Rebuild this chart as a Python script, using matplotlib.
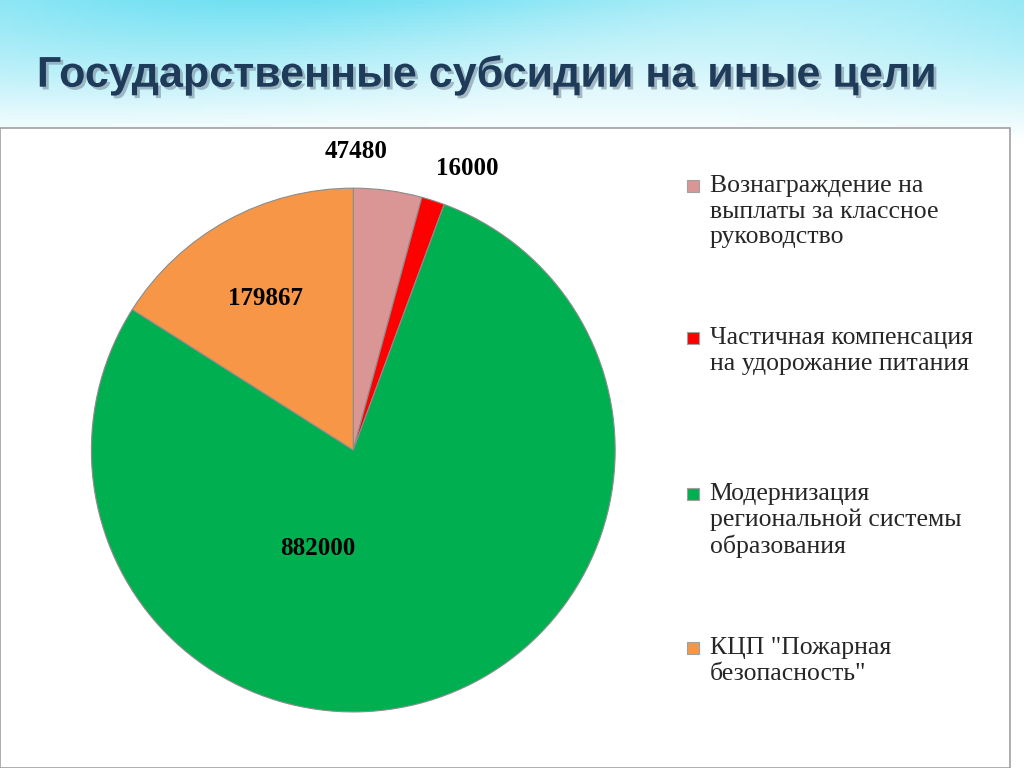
import numpy as np
import matplotlib.pyplot as plt
from matplotlib.patches import Rectangle
import matplotlib.patheffects as pe

title = "Государственные субсидии на иные цели"
categories = [
    "Вознаграждение на\nвыплаты за классное\nруководство",
    "Частичная компенсация\nна удорожание питания",
    "Модернизация\nрегиональной системы\nобразования",
    "КЦП \"Пожарная\nбезопасность\"",
]
values = [47480, 16000, 882000, 179867]
colors = ["#D99694", "#FF0000", "#00B050", "#F79646"]

fig = plt.figure(figsize=(10.24, 7.68), dpi=100)

# background: cyan gradient at top
bg = fig.add_axes([0, 0, 1, 1], zorder=-10)
bg.axis("off")
yy = np.linspace(0, 1, 200)[:, None]
xx = np.linspace(0, 1, 300)[None, :]
wave = 0.5 + 0.5 * np.sin(xx * 6 + yy * 8)
grad = np.clip(1 - yy * 5.5, 0, 1) * (0.6 + 0.4 * wave)
rgb = np.ones((200, 300, 3))
rgb[..., 0] = 1 - 0.55 * grad
rgb[..., 1] = 1 - 0.12 * grad
rgb[..., 2] = 1 - 0.05 * grad
bg.imshow(rgb, extent=[0, 1, 0, 1], aspect="auto")
bg.add_patch(Rectangle((0.0, 0.0), 0.986, 0.833, facecolor="white",
                       edgecolor="#A0A0A0", lw=1.2, transform=bg.transAxes))
bg.set_xlim(0, 1)
bg.set_ylim(0, 1)

fig.text(0.036, 0.902, title, fontsize=31, fontweight="bold", color="#1F3B5A",
         family="Liberation Sans", va="center",
         path_effects=[pe.withSimplePatchShadow(offset=(2, -2), shadow_rgbFace="#7F8FA0", alpha=0.6)])

ax = fig.add_axes([0.345 - 0.256, 0.414 - 0.341, 0.512, 0.682])
wedges, _ = ax.pie(values, colors=colors, startangle=90, counterclock=False,
                   wedgeprops=dict(edgecolor="#8C8C8C", linewidth=0.8))
ax.set_xlim(-1, 1)
ax.set_ylim(-1, 1)
ax.set_aspect("equal")

# label placement (radius, angle in degrees)
label_pos = [(1.14, 89.5), (1.16, 68), (0.40, -109.6), (0.67, 120)]
for v, (r, a) in zip(values, label_pos):
    t = np.radians(a)
    ax.text(r * np.cos(t), r * np.sin(t), str(v), ha="center", va="center",
            fontsize=18, fontweight="bold", family="Liberation Serif")

legend_y = [0.758, 0.560, 0.357, 0.156]
for cat, c, y in zip(categories, colors, legend_y):
    fig.patches.append(Rectangle((0.671, y - 0.008), 0.012, 0.016, facecolor=c,
                                 edgecolor="#A0A0A0", lw=0.8, transform=fig.transFigure))
    fig.text(0.693, y + 0.014, cat, fontsize=18.5, family="Liberation Serif",
             va="top", ha="left", linespacing=1.2, color="#262626")

fig.savefig("out.png", dpi=100)
